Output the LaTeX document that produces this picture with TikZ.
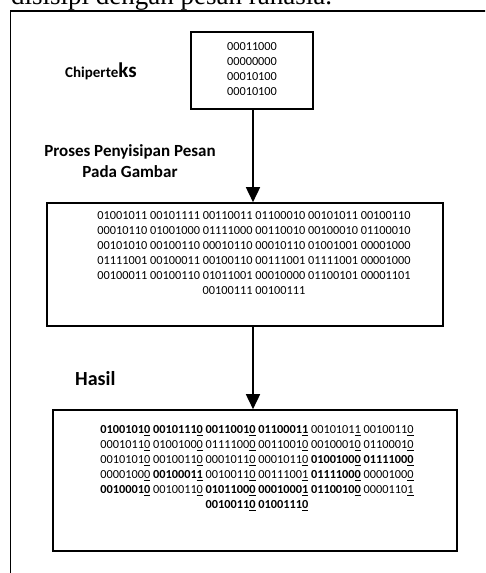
\documentclass[tikz,border=0pt]{standalone}
\usepackage{fontspec}
\setmainfont{Liberation Serif}
\setsansfont{Carlito}
\usetikzlibrary{arrows.meta}
\newcommand\lastd[1]{\underline{#1}}
\begin{document}
\begin{tikzpicture}[x=1pt,y=-1pt,
  boxst/.style={draw=black,line width=1.6pt,rectangle,inner sep=0pt},
  bintext/.style={align=center,inner sep=0pt,font=\sffamily\fontsize{12.3}{14.9}\selectfont},
  lbl/.style={inner sep=0pt,font=\sffamily\bfseries\fontsize{17}{21}\selectfont},
  arr/.style={line width=1.6pt,-{Triangle[width=14pt,length=15pt]}}]
\useasboundingbox (0,0) rectangle (485,573);
\clip (0,0) rectangle (485,573);
% top running text (cut by page, as in the reference)
\node[anchor=base west,inner sep=0pt,font=\fontsize{27}{30}\selectfont] (toptext) at (11,4) {disisipi dengan pesan rahasia.};
% outer frame
\coordinate (frtr) at (490,11);
\coordinate (frtl) at (10.5,11);
\coordinate (frbl) at (10.5,580);
\draw[line width=1.4pt] (frtr) -- (frtl) -- (frbl);
% cipher box
\node[boxst,minimum width=122pt,minimum height=77pt] (cipher) at (252,70.5) {};
\node[bintext] (ciphertxt) at (252,69.2) {00011000\\00000000\\00010100\\00010100};
\node[anchor=base west,inner sep=0pt,font=\sffamily\bfseries] (chlbl) at (65,77) {{\fontsize{15}{17}\selectfont Chiperte}{\fontsize{21}{23}\selectfont ks}};
% process label
\node[lbl,align=center] (proses) at (130,161.5) {Proses Penyisipan Pesan\\Pada Gambar};
% embedded image box
\node[boxst,minimum width=396pt,minimum height=123pt] (embed) at (245,264.5) {};
\node[bintext] (embedtxt) at (254,253) {01001011 00101111 00110011 01100010 00101011 00100110\\
00010110 01001000 01111000 00110010 00100010 01100010\\
00101010 00100110 00010110 00010110 01001001 00001000\\
01111001 00100011 00100110 00111001 01111001 00001000\\
00100011 00100110 01011001 00010000 01100101 00001101\\
00100111 00100111};
% result label
\node[anchor=base west,inner sep=0pt,font=\sffamily\bfseries\fontsize{20}{23}\selectfont] (hasil) at (75,385) {Hasil};
% result box
\node[boxst,minimum width=404pt,minimum height=141pt] (result) at (255,480.5) {};
\node[bintext] (resulttxt) at (257,468) {\textbf{0100101\lastd{0} 0010111\lastd{0} 0011001\lastd{0} 0110001\lastd{1}} 0010101\lastd{1} 0010011\lastd{0}\\
0001011\lastd{0} 0100100\lastd{0} 0111100\lastd{0} 0011001\lastd{0} 0010001\lastd{0} 0110001\lastd{0}\\
0010101\lastd{0} 0010011\lastd{0} 0001011\lastd{0} 0001011\lastd{0} \textbf{0100100\lastd{0} 0111100\lastd{0}}\\
0000100\lastd{0} \textbf{0010001\lastd{1}} 0010011\lastd{0} 0011100\lastd{1} \textbf{0111100\lastd{0}} 0000100\lastd{0}\\
\textbf{0010001\lastd{0}} 0010011\lastd{0} \textbf{0101100\lastd{0} 0001000\lastd{1} 0110010\lastd{0}} 0000110\lastd{1}\\
\textbf{0010011\lastd{0} 0100111\lastd{0}}};
% arrows
\coordinate (a1s) at ([xshift=1pt]cipher.south);
\draw[arr] (a1s) -- (a1s |- embed.north);
\draw[arr] (a1s |- embed.south) -- (a1s |- result.north);
\end{tikzpicture}
\end{document}
